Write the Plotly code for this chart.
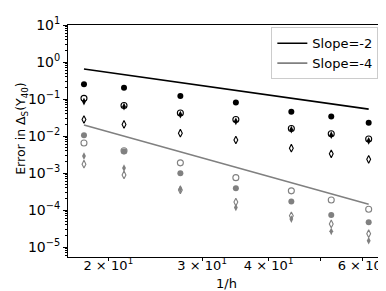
import plotly.graph_objects as go
import numpy as np

# 1/h values (columns)
inv_h = [18.0, 21.4, 27.3, 34.7, 44.1, 52.4, 61.6]

# Black series
blk_fill_circle = [0.25, 0.203, 0.12, 0.081, 0.0455, 0.0336, 0.0228]
blk_open_circle = [0.104, 0.067, 0.042, 0.028, 0.016, 0.0115, 0.0083]
blk_fill_diamond = [0.085, 0.062, 0.038, 0.025, 0.0148, 0.0105, 0.0074]
blk_open_diamond = [0.0279, 0.0206, 0.0119, 0.0078, 0.0047, 0.0033, 0.00234]

# Gray series
gry_fill_circle = [0.0105, 0.0038, 0.00098, 0.00039, 0.000171, 0.000073, 0.000047]
gry_open_circle = [0.0065, 0.0040, 0.00188, 0.00075, 0.000329, 0.000186, 0.000105]
gry_fill_diamond = [0.00287, 0.00136, 0.00037, 0.000117, 0.000057, 0.0000265, 0.0000148]
gry_open_diamond = [0.00173, 0.00089, 0.00035, 0.000164, 0.000070, 0.000042, 0.000023]

# Reference slope lines
slope_x = [18.0, 61.6]
slope2_y = [0.646, 0.0533]
slope4_y = [0.0198, 0.000143]

x_tickvals = [20, 30, 40, 60]
x_ticktext = ["2 × 10<sup>1</sup>", "3 × 10<sup>1</sup>", "4 × 10<sup>1</sup>", "6 × 10<sup>1</sup>"]
x_minor = [50]
y_tickvals = [10, 1, 0.1, 0.01, 0.001, 1e-4, 1e-5]
y_ticktext = ["10<sup>1</sup>", "10<sup>0</sup>", "10<sup>−1</sup>", "10<sup>−2</sup>",
              "10<sup>−3</sup>", "10<sup>−4</sup>", "10<sup>−5</sup>"]

BLACK = "#000000"
GRAY = "#808080"

fig = go.Figure()
fig.add_trace(go.Scatter(x=slope_x, y=slope2_y, mode="lines", name="Slope=-2",
                         line=dict(color=BLACK, width=1.6)))
fig.add_trace(go.Scatter(x=slope_x, y=slope4_y, mode="lines", name="Slope=-4",
                         line=dict(color=GRAY, width=1.6)))

def pts(y, color, symbol, size):
    open_ = symbol.endswith("-open")
    fig.add_trace(go.Scatter(
        x=inv_h, y=y, mode="markers", showlegend=False,
        marker=dict(color=color, symbol=symbol, size=size,
                    line=dict(color=color, width=1.1 if open_ else 0))))

pts(blk_fill_circle, BLACK, "circle", 6)
pts(blk_fill_diamond, BLACK, "diamond-tall", 5.5)
pts(blk_open_circle, BLACK, "circle-open", 6)
pts(blk_open_diamond, BLACK, "diamond-tall-open", 5.5)
pts(gry_fill_circle, GRAY, "circle", 6)
pts(gry_fill_diamond, GRAY, "diamond-tall", 5.5)
pts(gry_open_circle, GRAY, "circle-open", 6)
pts(gry_open_diamond, GRAY, "diamond-tall-open", 5.5)

y_minor = [m * 10.0**e for e in range(-6, 1) for m in range(2, 10)]

fig.update_layout(
    width=386, height=291,
    margin=dict(l=60, r=7, t=12, b=42),
    paper_bgcolor="white", plot_bgcolor="white",
    font=dict(family="DejaVu Sans", size=13, color="black"),
    showlegend=True,
    legend=dict(x=0.979, y=0.99, xanchor="right", yanchor="top",
                bgcolor="white", bordercolor="#cccccc", borderwidth=1,
                font=dict(size=13), tracegroupgap=0),
    xaxis=dict(type="log", range=[np.log10(16.8), np.log10(66.1)],
               tickvals=x_tickvals, ticktext=x_ticktext,
               ticks="outside", ticklen=3, tickcolor="black",
               ticklabelstandoff=-7,
               showline=True, linecolor="black", linewidth=1, mirror=True,
               showgrid=False, zeroline=False,
               minor=dict(tickvals=x_minor, ticks="outside", ticklen=3, tickcolor="black", showgrid=False),
               tickfont=dict(size=13)),
    yaxis=dict(type="log", range=[-5.27, 1.0],
               tickvals=y_tickvals, ticktext=y_ticktext,
               ticks="outside", ticklen=4, tickcolor="black",
               showline=True, linecolor="black", linewidth=1, mirror=True,
               showgrid=False, zeroline=False,
               minor=dict(tickvals=y_minor, ticks="outside", ticklen=2, tickcolor="black", showgrid=False),
               tickfont=dict(size=14)),
    annotations=[
        dict(text="Error in Δ<sub>S</sub>(Y<sub>40</sub>)", xref="paper", yref="paper",
             x=-0.1456, y=0.552, xanchor="center", yanchor="middle", textangle=-90,
             showarrow=False, font=dict(size=12.5)),
        dict(text="1/h", xref="paper", yref="paper",
             x=0.5, y=-0.115, xanchor="center", yanchor="middle",
             showarrow=False, font=dict(size=13)),
    ],
)

fig.write_html("out.html")
